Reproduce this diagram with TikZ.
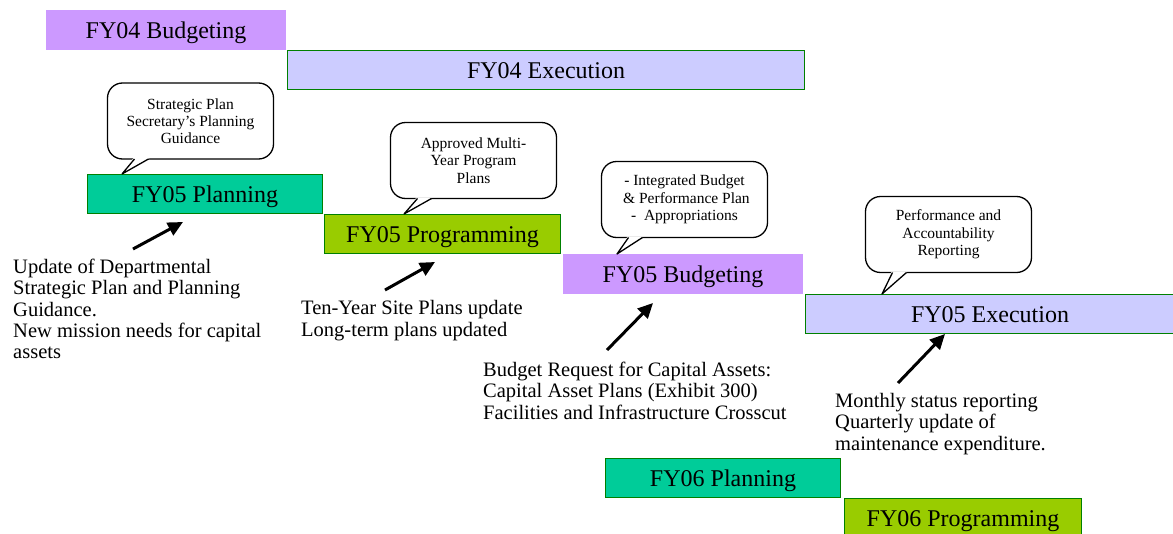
\documentclass[tikz,border=0pt]{standalone}
\usepackage{fontspec}
\setmainfont{Liberation Serif}
\usepackage{tikz}
\usetikzlibrary{positioning}
\usetikzlibrary{arrows.meta}

\definecolor{budgetcol}{HTML}{CC99FF}
\definecolor{execcol}{HTML}{CCCCFF}
\definecolor{plancol}{HTML}{00CC99}
\definecolor{progcol}{HTML}{99CC00}
\definecolor{edgegreen}{HTML}{008000}

\begin{document}
\begin{tikzpicture}[x=1pt,y=-1pt]

\tikzset{phase/.style={
		draw=edgegreen, line width=1pt,
		minimum width=#1,
		minimum height=39pt,
		anchor=north west,
		inner sep=0pt,
		text height=18pt, text depth=1pt,
		font=\fontsize{24}{26}\selectfont
	},
	phase/.default=236pt,
	note/.style={
		draw, line width=1.3pt, fill=white,
		rounded corners=15pt,
		minimum width=166pt, minimum height=76pt,
		inner sep=0pt, outer sep=0pt,
		align=center,
		font=\fontsize{15.5}{17.3}\selectfont
	},
	remark/.style={
		anchor=north west, align=left, inner sep=0pt,
		font=\fontsize{20.5}{21.3}\selectfont
	},
	pointer/.style={line width=3pt, -{Triangle[length=15pt,width=14pt]}},
	tail/.style={line width=1.3pt, line join=round}
}

\useasboundingbox (0,0) rectangle (1173,533);

% FY04
\node[phase=239pt, fill=budgetcol, draw=budgetcol] (bud04) at (46,10) {FY04 Budgeting};
\node[phase=517pt, fill=execcol, below right=0pt and 1pt of bud04] (exe04) {FY04 Execution};

% FY05
\node[phase=235pt, fill=plancol] (plan05) at (87,174) {FY05 Planning};
\node[phase=236pt, fill=progcol, below right=0pt and 1pt of plan05] (prog05) {FY05 Programming};
\node[phase=239pt, fill=budgetcol, draw=budgetcol, below right=0pt and 2pt of prog05] (bud05) {FY05 Budgeting};
\node[phase=369pt, fill=execcol, below right=0pt and 2pt of bud05] (exe05) {FY05 Execution};

% FY06
\node[phase=235pt, fill=plancol] (plan06) at (605,458) {FY06 Planning};
\node[phase=237pt, fill=progcol, below right=0pt and 3pt of plan06] (prog06) {FY06 Programming};

% callouts
\node[note] (note1) at (190.5,121) {Strategic Plan\\Secretary's Planning\\Guidance};
\node[note] (note2) at (473.5,160.5) {Approved Multi-\\Year Program\\Plans};
\node[note] (note3) at (684.5,199.5) {- Integrated Budget\\\ \& Performance Plan\\-~~Appropriations};
\node[note] (note4) at (948.5,234.5) {Performance and\\Accountability\\Reporting};

\foreach \c/\b/\t in {note1/plan05/35, note2/prog05/80, note3/bud05/54, note4/exe05/77}{
	\fill[white] ([xshift=26pt,yshift=1pt]\c.south west) -- ([xshift=42pt,yshift=1pt]\c.south west)
		-- ([xshift=\t pt]\b.north west) -- cycle;
	\draw[tail] ([xshift=27pt]\c.south west) -- ([xshift=\t pt]\b.north west) -- ([xshift=41pt]\c.south west);
}

% remarks
\node[remark] (rem1) at (13,259) {Update of Departmental\\Strategic Plan and Planning\\Guidance.\\New mission needs for capital\\assets};
\node[remark] (rem2) at (301,300.5) {Ten-Year Site Plans update\\Long-term plans updated};
\node[remark] (rem3) at (483,362) {Budget Request for Capital Assets:\\Capital Asset Plans (Exhibit 300)\\Facilities and Infrastructure Crosscut};
\node[remark] (rem4) at (835,393) {Monthly status reporting\\Quarterly update of\\maintenance expenditure.};

\foreach \n/\xa/\ya/\xb/\yb in {1/133/249/183/222, 2/385/290/435/262, 3/607/350/653/303, 4/898/383/945/334}{
	\coordinate (from\n) at (\xa,\ya);
	\coordinate (to\n) at (\xb,\yb);
	\draw[pointer] (from\n) -- (to\n);
}

\end{tikzpicture}
\end{document}
